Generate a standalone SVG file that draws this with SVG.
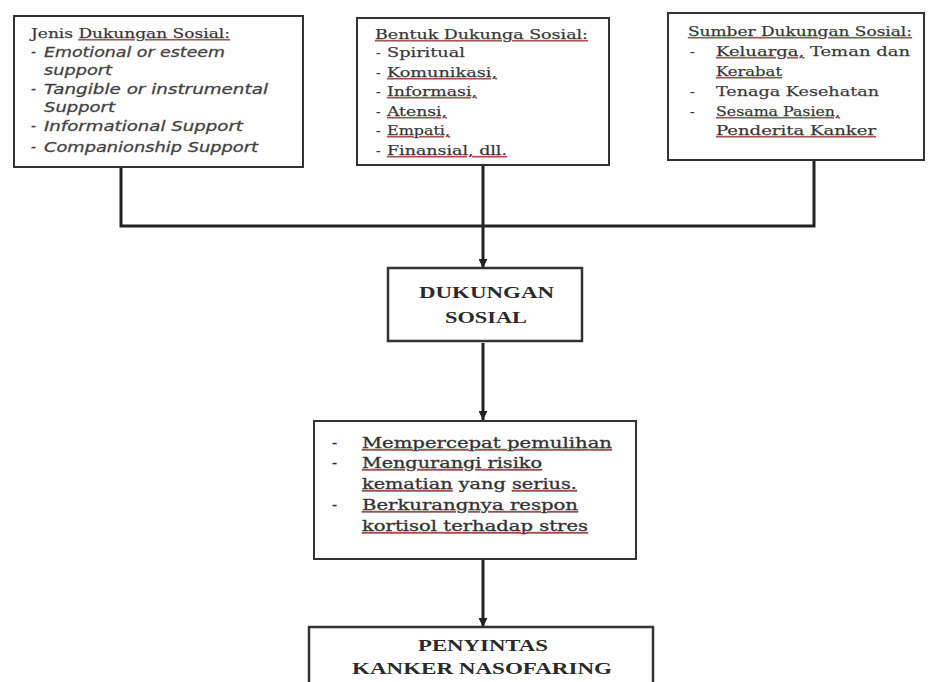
<svg xmlns="http://www.w3.org/2000/svg" width="936" height="682" viewBox="0 0 936 682">
<defs>
<style>
.box{fill:#fff;stroke:#333;stroke-width:2}
.bold{stroke-width:2.5}
.con{fill:none;stroke:#222;stroke-width:3}
.sf{font-family:"DejaVu Serif","Liberation Serif",serif;font-size:13.5px;fill:#333;stroke:#555;stroke-width:0.25}
.it{font-family:"DejaVu Sans","Liberation Sans",sans-serif;font-style:italic;font-size:13.5px;fill:#3a3a3a;stroke:#555;stroke-width:0.3}
.mid{font-family:"DejaVu Serif","Liberation Serif",serif;font-size:15px;fill:#2a2a2a;stroke:#444;stroke-width:0.35}
.ttl{font-family:"Liberation Serif","DejaVu Serif",serif;font-weight:bold;font-size:17.5px;fill:#2a2a2a}
.u{fill:#c0504d;text-decoration:underline}
.t{fill:#2e2e2e}
</style>
<marker id="ah" viewBox="0 0 10 10" refX="10" refY="5" markerWidth="9" markerHeight="9" markerUnits="userSpaceOnUse" orient="auto">
<path d="M0,0 L10,5 L0,10 z" fill="#222"/>
</marker>
</defs>
<rect width="936" height="682" fill="#fff"/>

<g id="connectors">
<polyline class="con" points="121,167 121,226 814,226 814,160"/>
<line class="con" x1="483" y1="165" x2="483" y2="268" marker-end="url(#ah)"/>
<line class="con" x1="483" y1="343" x2="483" y2="420" marker-end="url(#ah)"/>
<line class="con" x1="483" y1="559" x2="483" y2="627" marker-end="url(#ah)"/>
</g>

<g id="jenis">
<rect class="box" x="14" y="16" width="289" height="151"/>
<text class="sf" x="31" y="38" textLength="199" lengthAdjust="spacingAndGlyphs">Jenis <tspan class="u"><tspan class="t">Dukungan Sosial:</tspan></tspan></text>
<text class="it" x="31" y="57">-</text>
<text class="it" x="44" y="57" textLength="181" lengthAdjust="spacingAndGlyphs">Emotional or esteem</text>
<text class="it" x="44" y="75" textLength="68" lengthAdjust="spacingAndGlyphs">support</text>
<text class="it" x="31" y="94">-</text>
<text class="it" x="44" y="94" textLength="224" lengthAdjust="spacingAndGlyphs">Tangible or instrumental</text>
<text class="it" x="44" y="112" textLength="71" lengthAdjust="spacingAndGlyphs">Support</text>
<text class="it" x="31" y="131">-</text>
<text class="it" x="44" y="131" textLength="199" lengthAdjust="spacingAndGlyphs">Informational Support</text>
<text class="it" x="31" y="152">-</text>
<text class="it" x="44" y="152" textLength="214" lengthAdjust="spacingAndGlyphs">Companionship Support</text>
</g>

<g id="bentuk">
<rect class="box" x="357" y="18" width="252" height="147"/>
<text class="sf" x="375" y="39" textLength="213" lengthAdjust="spacingAndGlyphs"><tspan class="u"><tspan class="t">Bentuk Dukunga Sosial:</tspan></tspan></text>
<text class="sf" x="376" y="57">-</text>
<text class="sf" x="387" y="57" textLength="78" lengthAdjust="spacingAndGlyphs">Spiritual</text>
<text class="sf" x="376" y="77">-</text>
<text class="sf" x="387" y="77" textLength="110" lengthAdjust="spacingAndGlyphs"><tspan class="u"><tspan class="t">Komunikasi,</tspan></tspan></text>
<text class="sf" x="376" y="96">-</text>
<text class="sf" x="387" y="96" textLength="90" lengthAdjust="spacingAndGlyphs"><tspan class="u"><tspan class="t">Informasi,</tspan></tspan></text>
<text class="sf" x="376" y="116">-</text>
<text class="sf" x="387" y="116" textLength="60" lengthAdjust="spacingAndGlyphs"><tspan class="u"><tspan class="t">Atensi,</tspan></tspan></text>
<text class="sf" x="376" y="135">-</text>
<text class="sf" x="387" y="135" textLength="63" lengthAdjust="spacingAndGlyphs"><tspan class="u"><tspan class="t">Empati,</tspan></tspan></text>
<text class="sf" x="376" y="155">-</text>
<text class="sf" x="387" y="155" textLength="120" lengthAdjust="spacingAndGlyphs"><tspan class="u"><tspan class="t">Finansial, dll.</tspan></tspan></text>
</g>

<g id="sumber">
<rect class="box" x="668" y="13" width="256" height="147"/>
<text class="sf" x="688" y="36" textLength="224" lengthAdjust="spacingAndGlyphs"><tspan class="u"><tspan class="t">Sumber Dukungan Sosial:</tspan></tspan></text>
<text class="sf" x="690" y="56">-</text>
<text class="sf" x="716" y="56" textLength="194" lengthAdjust="spacingAndGlyphs"><tspan class="u"><tspan class="t">Keluarga,</tspan></tspan> Teman dan</text>
<text class="sf" x="716" y="76" textLength="66" lengthAdjust="spacingAndGlyphs"><tspan class="u"><tspan class="t">Kerabat</tspan></tspan></text>
<text class="sf" x="690" y="96">-</text>
<text class="sf" x="716" y="96" textLength="163" lengthAdjust="spacingAndGlyphs">Tenaga Kesehatan</text>
<text class="sf" x="690" y="116">-</text>
<text class="sf" x="716" y="116" textLength="124" lengthAdjust="spacingAndGlyphs"><tspan class="u"><tspan class="t">Sesama Pasien,</tspan></tspan></text>
<text class="sf" x="716" y="135" textLength="160" lengthAdjust="spacingAndGlyphs"><tspan class="u"><tspan class="t">Penderita Kanker</tspan></tspan></text>
</g>

<g id="dukungan">
<rect class="box bold" x="388" y="268" width="194" height="73"/>
<text class="ttl" x="419" y="298" textLength="135" lengthAdjust="spacingAndGlyphs">DUKUNGAN</text>
<text class="ttl" x="445" y="323" textLength="82" lengthAdjust="spacingAndGlyphs">SOSIAL</text>
</g>

<g id="manfaat">
<rect class="box" x="314" y="421" width="322" height="138"/>
<text class="mid" x="332" y="448">-</text>
<text class="mid" x="362" y="448" textLength="250" lengthAdjust="spacingAndGlyphs"><tspan class="u"><tspan class="t">Mempercepat pemulihan</tspan></tspan></text>
<text class="mid" x="332" y="468">-</text>
<text class="mid" x="362" y="468" textLength="180" lengthAdjust="spacingAndGlyphs"><tspan class="u"><tspan class="t">Mengurangi risiko</tspan></tspan></text>
<text class="mid" x="362" y="489" textLength="215" lengthAdjust="spacingAndGlyphs"><tspan class="u"><tspan class="t">kematian</tspan></tspan> yang <tspan class="u"><tspan class="t">serius.</tspan></tspan></text>
<text class="mid" x="332" y="510">-</text>
<text class="mid" x="362" y="510" textLength="216" lengthAdjust="spacingAndGlyphs"><tspan class="u"><tspan class="t">Berkurangnya respon</tspan></tspan></text>
<text class="mid" x="362" y="531" textLength="226" lengthAdjust="spacingAndGlyphs"><tspan class="u"><tspan class="t">kortisol terhadap stres</tspan></tspan></text>
</g>

<g id="penyintas">
<rect class="box bold" x="309" y="627" width="344" height="70"/>
<text class="ttl" x="418" y="651" textLength="130" lengthAdjust="spacingAndGlyphs">PENYINTAS</text>
<text class="ttl" x="352" y="674" textLength="260" lengthAdjust="spacingAndGlyphs">KANKER NASOFARING</text>
</g>
</svg>
